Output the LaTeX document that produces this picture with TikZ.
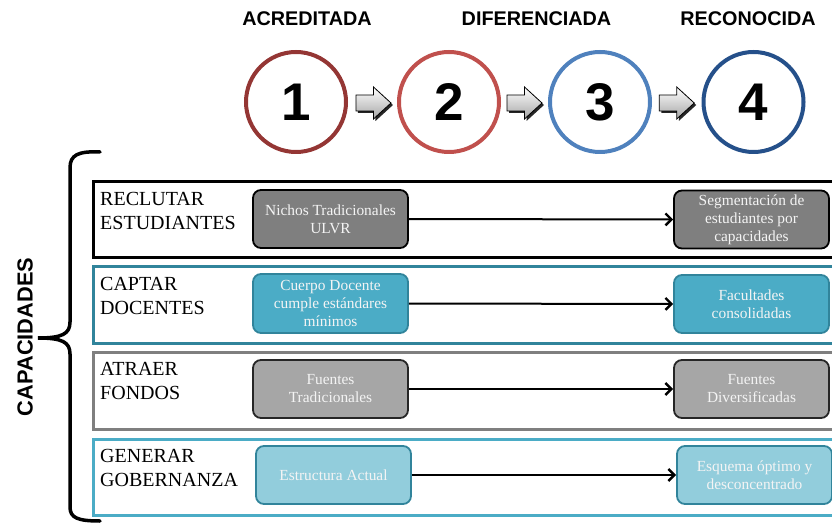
\documentclass[tikz,border=0pt]{standalone}
\usepackage{fontspec}
\setmainfont{Liberation Serif}
\newfontfamily\arialfont{Liberation Sans}
\usetikzlibrary{arrows.meta,calc,shadings}
\definecolor{cone}{HTML}{943634}
\definecolor{ctwo}{HTML}{C0504D}
\definecolor{cthree}{HTML}{4F81BD}
\definecolor{cfour}{HTML}{25508A}
\definecolor{tealdark}{HTML}{31849B}
\definecolor{tealmid}{HTML}{4BACC6}
\definecolor{teallight}{HTML}{92CDDC}
\definecolor{graydark}{HTML}{7F7F7F}
\definecolor{graylight}{HTML}{A6A6A6}
\definecolor{boxtext}{HTML}{F4F4F4}
\tikzset{
  stage/.style={circle, line width=4pt, minimum size=100pt, inner sep=0pt,
    font=\arialfont\bfseries\fontsize{53}{53}\selectfont},
  heading/.style={font=\arialfont\bfseries\fontsize{19.8}{22}\selectfont, inner sep=0pt},
  rowbox/.style={rectangle, line width=3pt, anchor=north west, minimum width=760pt, inner sep=0pt},
  rowlabel/.style={anchor=north west, inner sep=0pt, align=left,
    font=\fontsize{20}{24}\selectfont},
  stepbox/.style={rectangle, rounded corners=8pt, line width=1.8pt, minimum width=155pt,
    minimum height=58pt, inner sep=2pt, align=center, text=boxtext,
    font=\fontsize{15.4}{18}\selectfont},
  conn/.style={line width=2pt, -{Straight Barb[length=6pt,width=12pt,line width=2.4pt]}},
  blockarr/.pic={
    \fill[black!85] ($(-17.5,-8)+(2,2)$) -- ++(17.5,0) -- ++(0,-8) -- ++(17.5,16) -- ++(-17.5,16) -- ++(0,-8) -- ++(-17.5,0) -- cycle;
    \draw[line width=0.8pt, top color=white, bottom color=black!35] (-17.5,-8) -- (0,-8) -- (0,-16) -- (17.5,0) -- (0,16) -- (0,8) -- (-17.5,8) -- cycle;
  }
}
\begin{document}
\begin{tikzpicture}[x=1pt,y=-1pt]
\useasboundingbox (0,0) rectangle (832,526);
\clip (0,0) rectangle (832,526);

% headings
\node[heading] (h1) at (307,18.5) {ACREDITADA};
\node[heading] (h2) at (536.5,18.5) {DIFERENCIADA};
\node[heading] (h3) at (748,18.5) {RECONOCIDA};

% stage circles
\node[stage, draw=cone] (c1) at (296,102) {1};
\node[stage, draw=ctwo] (c2) at (449,102) {2};
\node[stage, draw=cthree] (c3) at (600,102) {3};
\node[stage, draw=cfour] (c4) at (753.5,102) {4};

\path (c1) -- (c2) coordinate[pos=0.52] (m12);
\path (c2) -- (c3) coordinate[pos=0.5] (m23);
\path (c3) -- (c4) coordinate[pos=0.5] (m34);
\pic at ($(m12)+(0,1)$) {blockarr};
\pic at ($(m23)+(0,1)$) {blockarr};
\pic at ($(m34)+(0,1)$) {blockarr};

% brace and side label
\draw[line width=3.5pt, line cap=round]
  (100,152) .. controls (78,151) and (70,155) .. (70,168) -- (70,322)
  .. controls (70,334) and (62,338) .. (38,338)
  .. controls (62,338) and (70,342) .. (70,354) -- (70,507)
  .. controls (70,518) and (78,521) .. (100,521);
\node[font=\arialfont\bfseries\fontsize{21.8}{24}\selectfont, rotate=90, inner sep=0pt] (cap) at (25,337) {CAPACIDADES};

% rows
\node[rowbox, draw=black, minimum height=76pt] (r1) at (91.5,180.5) {};
\node[rowbox, draw=tealdark, minimum height=76pt] (r2) at (91.5,265.5) {};
\node[rowbox, draw=graydark, minimum height=77pt] (r3) at (91.5,350.5) {};
\node[rowbox, draw=tealmid, minimum height=76pt] (r4) at (91.5,437.5) {};

\node[rowlabel] (l1) at ($(r1.north west)+(8.5,11.5)$) {RECLUTAR\\ESTUDIANTES};
\node[rowlabel] (l2) at ($(r2.north west)+(8.5,11.5)$) {CAPTAR\\DOCENTES};
\node[rowlabel] (l3) at ($(r3.north west)+(8.5,11.5)$) {ATRAER\\FONDOS};
\node[rowlabel] (l4) at ($(r4.north west)+(8.5,11.5)$) {GENERAR\\GOBERNANZA};

% step boxes
\node[stepbox, draw=black, fill=graydark] (a1) at (330.5,219) {Nichos Tradicionales\\ULVR};
\node[stepbox, draw=black, fill=graydark] (b1) at (751.5,219.5) {Segmentación de\\estudiantes por\\capacidades};
\node[stepbox, draw=tealdark, fill=tealmid, minimum height=59pt] (a2) at (330.5,303.5) {Cuerpo Docente\\cumple estándares\\mínimos};
\node[stepbox, draw=tealdark, fill=tealmid] (b2) at (751.5,304) {Facultades\\consolidadas};
\node[stepbox, draw=black!85, fill=graylight] (a3) at (330.5,389) {Fuentes\\Tradicionales};
\node[stepbox, draw=black!85, fill=graylight] (b3) at (751.5,389) {Fuentes\\Diversificadas};
\node[stepbox, draw=tealdark, fill=teallight] (a4) at (333.5,475) {Estructura Actual};
\node[stepbox, draw=tealdark, fill=teallight] (b4) at (754.5,475) {Esquema óptimo y\\desconcentrado};

\draw[conn] (a1) -- (b1);
\draw[conn] (a2) -- (b2);
\draw[conn] (a3) -- (b3);
\draw[conn] (a4) -- (b4);
\end{tikzpicture}
\end{document}
